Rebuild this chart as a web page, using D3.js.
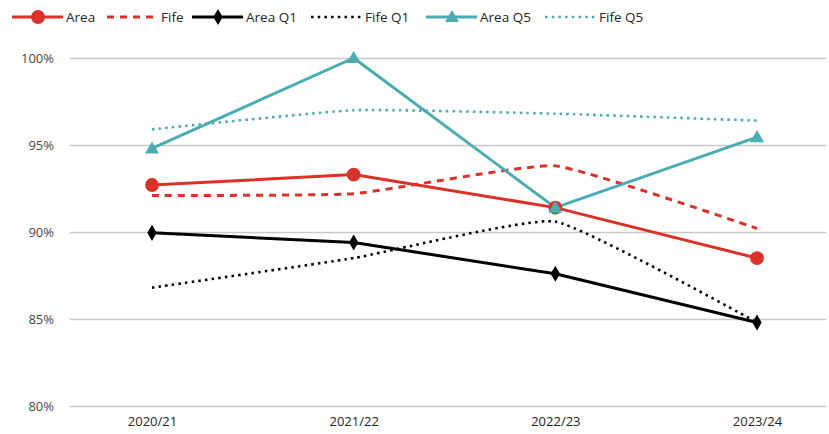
<!DOCTYPE html>
<html>
<head>
<meta charset="utf-8">
<script src="https://cdn.jsdelivr.net/npm/d3@7"></script>
<style>
  body { margin: 0; background: #fff; }
  text { font-family: "Segoe UI", "Open Sans", "Noto Sans", sans-serif; }
</style>
</head>
<body>
<div id="chart"></div>
<script>
// chart data
var years = ["2020/21", "2021/22", "2022/23", "2023/24"],
	area   = [92.7, 93.3, 91.4, 88.5],
	fife   = [92.1, 92.2, 93.8, 90.2],
	areaQ1 = [89.95, 89.4, 87.6, 84.8],
	fifeQ1 = [86.8, 88.5, 90.6, 84.8],
	areaQ5 = [94.8, 100, 91.4, 95.45],
	fifeQ5 = [95.9, 97.0, 96.8, 96.4],
	yTicks = [80, 85, 90, 95, 100];

var red = "#da3129", teal = "#4aacb2", black = "#000";

var series = [
	{name: "Area",    values: area,   color: red,   dash: null,  marker: "circle",  smooth: false},
	{name: "Fife",    values: fife,   color: red,   dash: "7,6", marker: null,      smooth: true},
	{name: "Area Q1", values: areaQ1, color: black, dash: null,  marker: "diamond", smooth: false},
	{name: "Fife Q1", values: fifeQ1, color: black, dash: "2.5,4.2", marker: null,  smooth: true},
	{name: "Area Q5", values: areaQ5, color: teal,  dash: null,  marker: "triangle", smooth: false},
	{name: "Fife Q5", values: fifeQ5, color: teal,  dash: "2.5,4.2", marker: null,  smooth: true}
];

// layout
var w = 829, h = 434,
	legendX = [12, 107, 192, 311, 426, 545];

var svg = d3.select("#chart").append("svg")
	.attr("width", w)
	.attr("height", h);

var x = d3.scalePoint().domain(years).range([152, 757]);
var y = d3.scaleLinear().domain([80, 100]).range([406, 58]);

// gridlines + y labels
var yAxis = svg.append("g")
	.attr("transform", "translate(70,0)")
	.call(d3.axisLeft(y).tickValues(yTicks).tickSize(-756).tickFormat(function(d) { return d + "%"; }));
yAxis.select(".domain").remove();
yAxis.selectAll(".tick line").attr("stroke", "#c8c8c8").attr("stroke-width", 1.3);
yAxis.selectAll(".tick text")
	.attr("x", -16)
	.attr("fill", "#4a4845")
	.style("font-size", "13px");

// x labels
var xAxis = svg.append("g")
	.attr("transform", "translate(0,406)")
	.call(d3.axisBottom(x).tickSize(0).tickPadding(11));
xAxis.select(".domain").remove();
xAxis.selectAll(".tick text")
	.attr("fill", "#252423")
	.style("font-size", "13px");

var symbols = {
	circle: d3.symbol().type(d3.symbolCircle).size(150),
	diamond: d3.symbol().type(d3.symbolDiamond).size(75),
	triangle: d3.symbol().type(d3.symbolTriangle).size(85)
};

var isDotted = function(s) { return s.dash && s.dash.indexOf("2.5") == 0; };

// lines
series.forEach(function(s) {
	var line = d3.line()
		.x(function(d, i) { return x(years[i]); })
		.y(function(d) { return y(d); })
		.curve(s.smooth ? d3.curveCardinal.tension(0.6) : d3.curveLinear);
	svg.append("path")
		.datum(s.values)
		.attr("fill", "none")
		.attr("stroke", s.color)
		.attr("stroke-width", isDotted(s) ? 2.6 : 3)
		.attr("stroke-dasharray", s.dash)
		.attr("stroke-linejoin", "round")
		.attr("d", line);
});

// markers drawn on top
series.forEach(function(s) {
	if (!s.marker) return;
	svg.selectAll(null)
		.data(s.values)
		.enter().append("path")
		.attr("d", symbols[s.marker])
		.attr("transform", function(d, i) {
			return "translate(" + x(years[i]) + "," + (y(d) + (s.marker == "triangle" ? 1 : 0)) + ")";
		})
		.attr("fill", s.color);
});

// legend
var legend = svg.append("g").attr("transform", "translate(0,17)");
series.forEach(function(s, i) {
	var g = legend.append("g").attr("transform", "translate(" + legendX[i] + ",0)");
	g.append("line")
		.attr("x1", 0).attr("x2", 51)
		.attr("stroke", s.color)
		.attr("stroke-width", isDotted(s) ? 2.6 : 3)
		.attr("stroke-dasharray", s.dash);
	if (s.marker) {
		g.append("path")
			.attr("d", symbols[s.marker])
			.attr("transform", "translate(26," + (s.marker == "triangle" ? 1 : 0) + ")")
			.attr("fill", s.color);
	}
	g.append("text")
		.attr("x", 54)
		.attr("dy", "0.35em")
		.attr("fill", "#252423")
		.style("font-size", "13.5px")
		.text(s.name);
});
</script>
</body>
</html>
